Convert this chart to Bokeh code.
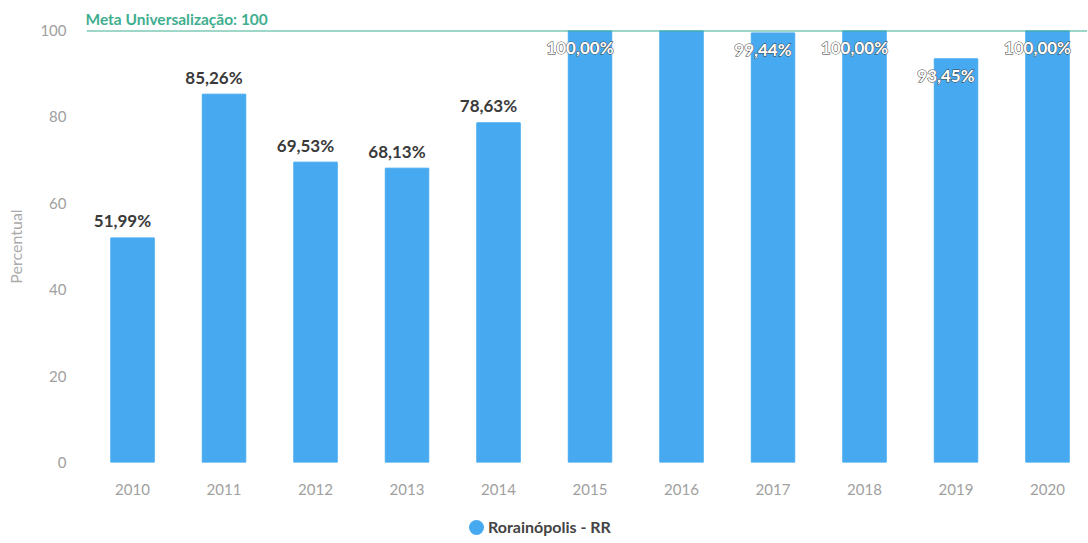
from bokeh.plotting import figure
from bokeh.models import (ColumnDataSource, Range1d, Span, FixedTicker, Title, Div)
from bokeh.layouts import column
from bokeh.core.properties import value
from bokeh.embed import file_html
from bokeh.resources import INLINE

# ---- data ----
years = ["2010", "2011", "2012", "2013", "2014", "2015", "2016", "2017", "2018", "2019", "2020"]
values = [51.99, 85.26, 69.53, 68.13, 78.63, 100.00, 100.00, 99.44, 100.00, 93.45, 100.00]
hidden_labels = ["2016"]
series_name = "Rorainópolis - RR"
goal = 100
goal_label = "Meta Universalização: 100"
y_ticks = [0, 20, 40, 60, 80, 100]

BAR = "#47aaf0"
GOAL = "#3fae8f"
FONT = "Lato"

idx = list(range(len(years)))
fmt = [("{:.2f}%".format(v)).replace(".", ",") for v in values]

src = ColumnDataSource(dict(x=idx, top=values))

LABEL_SHIFT = -0.11  # labels sit slightly left of the bar centre
out_x, out_y, out_t, in_x, in_y, in_t = [], [], [], [], [], []
for i, (yr, v, t) in enumerate(zip(years, values, fmt)):
    if yr in hidden_labels:
        continue
    if v > 90:
        in_x.append(i + LABEL_SHIFT); in_y.append(v); in_t.append(t)
    else:
        out_x.append(i + LABEL_SHIFT); out_y.append(v); out_t.append(t)

p = figure(width=1087, height=503, output_backend="svg", toolbar_location=None,
           x_range=Range1d(-0.503, 10.437), y_range=Range1d(0, 100),
           min_border_left=86, min_border_right=0, min_border_top=30, min_border_bottom=41)
p.outline_line_color = None
p.xgrid.grid_line_color = None
p.ygrid.grid_line_color = None
p.background_fill_color = "white"
p.border_fill_color = "white"

# goal label as a title just above the frame
p.title = Title(text=goal_label, align="left", text_font=FONT, text_font_style="bold",
                text_font_size="15.5px", text_color=GOAL, standoff=5, offset=-1)

bars = p.vbar(x="x", top="top", width=0.475, bottom=0, source=src, color=BAR)

# axes
p.xaxis.ticker = FixedTicker(ticks=idx)
p.xaxis.major_label_overrides = {i: y for i, y in zip(idx, years)}
p.yaxis.ticker = FixedTicker(ticks=y_ticks)
for ax in (p.xaxis[0], p.yaxis[0]):
    ax.axis_line_color = None
    ax.major_tick_line_color = None
    ax.minor_tick_line_color = None
    ax.major_tick_out = 0
    ax.minor_tick_out = 0
    ax.major_label_text_font = FONT
    ax.major_label_text_font_size = "15px"
    ax.major_label_text_color = "#a0a0a0"
    ax.major_label_standoff = 20
p.xaxis.major_label_standoff = 21
p.yaxis.axis_label = "Percentual"
p.yaxis.axis_label_text_font = FONT
p.yaxis.axis_label_text_font_style = "normal"
p.yaxis.axis_label_text_font_size = "16px"
p.yaxis.axis_label_text_color = "#aaaaaa"
p.yaxis.axis_label_standoff = 12

# goal line
p.add_layout(Span(location=goal, dimension="width", line_color=GOAL, line_width=2))

# data labels above the bars
p.text(x=out_x, y=out_y, text=out_t, text_align="center", text_baseline="middle",
       y_offset=-17, text_font=value(FONT), text_font_style="bold",
       text_font_size="17px", text_color="#3a3a3a")
# data labels inside the tall bars: white text with a dark halo
p.text(x=in_x, y=in_y, text=in_t, text_align="center", text_baseline="middle",
       y_offset=17, text_font=value(FONT), text_font_style="bold",
       text_font_size="17px", text_color="white", text_outline_color="#3a3a3a")
p.text(x=in_x, y=in_y, text=in_t, text_align="center", text_baseline="middle",
       y_offset=17, text_font=value(FONT), text_font_style="bold",
       text_font_size="17px", text_color="white")

# legend row under the chart
legend_html = (
    '<div style="position:relative;width:1087px;height:40px;font-family:Lato;'
    'font-weight:bold;font-size:16px;color:#444444;">'
    '<span style="position:absolute;left:464px;top:12px;width:15px;height:15px;'
    'border-radius:50%;background:' + BAR + ';"></span>'
    '<span style="position:absolute;left:483px;top:9px;line-height:20px;white-space:nowrap;">'
    + series_name + '</span></div>'
)
legend = Div(text=legend_html, width=1087, height=40)

open("out.html", "w").write(file_html(column(p, legend, spacing=0), INLINE))
